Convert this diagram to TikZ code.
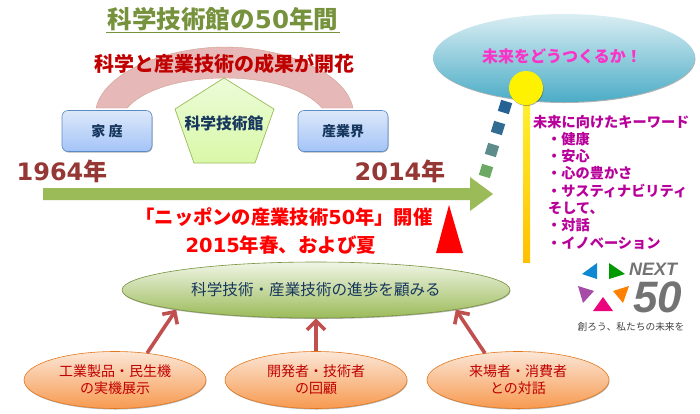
\documentclass[tikz,border=0pt]{standalone}
\usepackage{fontspec}
\setmainfont{Noto Sans CJK JP}
\newfontfamily\numfont{DejaVu Sans}
\newfontfamily\logofont{Liberation Sans}
\usetikzlibrary{shapes.geometric,shadows,arrows.meta}
\definecolor{titlegreen}{HTML}{76923C}
\definecolor{barsgreen}{HTML}{9BBB59}
\definecolor{yearred}{HTML}{953735}
\definecolor{darkred}{HTML}{C00000}
\definecolor{navytext}{HTML}{17375E}
\definecolor{keypink}{HTML}{B8009A}
\definecolor{arrowred}{HTML}{C0504D}
\definecolor{bandpink}{HTML}{E6B8B7}
\definecolor{bandline}{HTML}{CFA08F}
\definecolor{boxtop}{HTML}{DCE8FA}
\definecolor{boxbottom}{HTML}{A4C4F7}
\definecolor{boxline}{HTML}{5B8BC4}
\definecolor{penttop}{HTML}{ECFCD8}
\definecolor{pentbottom}{HTML}{D9F8A8}
\definecolor{ovaltop}{HTML}{FBE6D6}
\definecolor{ovalbottom}{HTML}{F79A50}
\definecolor{ovalline}{HTML}{E3781E}
\definecolor{skytop}{HTML}{DAEEF3}
\definecolor{skybottom}{HTML}{4BACC6}
\definecolor{poletop}{HTML}{FFF030}
\definecolor{polemid}{HTML}{FFE080}
\definecolor{polebottom}{HTML}{FFC000}
\tikzset{
  softshadow/.style={drop shadow={shadow xshift=0.5pt,shadow yshift=-1pt,opacity=0.3,fill=black}},
  fieldbox/.style={draw=boxline,line width=0.6pt,rounded corners=6pt,minimum width=90pt,minimum height=41pt,inner sep=0pt,
    top color=boxtop,bottom color=boxbottom,softshadow,text=navytext,font=\bfseries\fontsize{14}{16}\selectfont},
  eventoval/.style={ellipse,draw=ovalline,line width=0.6pt,minimum width=182pt,minimum height=57pt,inner sep=0pt,
    top color=ovaltop,bottom color=ovalbottom,softshadow,text=darkred,align=center,font=\fontsize{14}{17}\selectfont},
  uparrow/.style={draw=arrowred,line width=3.6pt,-{Straight Barb[length=9pt,width=18pt,line width=3.6pt]}},
  dotsquare/.style={minimum size=11.5pt,inner sep=0pt,rotate=-17},
  keyline/.style={anchor=west,inner sep=0pt,text=keypink,font=\bfseries\fontsize{14.2}{16}\selectfont}
}
\begin{document}
\begin{tikzpicture}[x=1pt,y=-1pt]
  \useasboundingbox (0,0) rectangle (700,413);

  \node[text=titlegreen,inner sep=1pt,font=\bfseries\fontsize{24.5}{26}\selectfont] (title) at (223,19) {科学技術館の{\numfont 50}年間};
  \draw[titlegreen,line width=1pt] (106,32) -- (340,32);

  \draw[draw=bandline,fill=bandpink] (96,108) .. controls (105,70) and (170,47) .. (225,47) .. controls (280,47) and (345,70) .. (353,108) -- (322,108) .. controls (305,88) and (265,78) .. (225,78) .. controls (185,78) and (145,88) .. (127,108) -- cycle;
  \node[text=darkred,font=\bfseries\fontsize{20}{22}\selectfont] (seika) at (224,64) {科学と産業技術の成果が開花};

  \node[fieldbox] (katei) at (107,131) {家 庭};
  \node[fieldbox] (sangyo) at (343,131) {産業界};
  \draw[draw=barsgreen,line width=0.7pt,top color=penttop,bottom color=pentbottom] (224,78) -- (274,109) -- (255,163) -- (194,163) -- (175,109) -- cycle;
  \node[text=navytext,font=\bfseries\fontsize{15.8}{18}\selectfont] (kan) at (224,123) {科学技術館};

  \node[text=yearred,font=\bfseries\fontsize{24}{26}\selectfont] (y1964) at (62,171) {{\numfont 1964}年};
  \node[text=yearred,font=\bfseries\fontsize{24}{26}\selectfont] (y2014) at (400,171) {{\numfont 2014}年};

  \fill[barsgreen] (43,188) -- (470,188) -- (470,177) -- (493,194) -- (470,211) -- (470,200) -- (43,200) -- cycle;

  \node[text=red,font=\bfseries\fontsize{19.3}{22}\selectfont] (nippon) at (284,217) {「ニッポンの産業技術{\numfont 50}年」開催};
  \node[text=red,font=\bfseries\fontsize{19.5}{22}\selectfont] (haru) at (281,245) {{\numfont 2015}年春、および夏};
  \fill[red] (449,205) -- (463,253) -- (436,253) -- cycle;

  \node[ellipse,draw=titlegreen,line width=0.6pt,minimum width=388pt,minimum height=56pt,inner sep=0pt,top color=barsgreen!15,bottom color=barsgreen,softshadow,text=navytext,font=\fontsize{15.6}{18}\selectfont] (shinpo) at (316,290) {科学技術・産業技術の進歩を顧みる};

  \node[eventoval] (kogyo) at (115,380) {工業製品・民生機\\の実機展示};
  \node[eventoval] (kaihatsu) at (316,380) {開発者・技術者\\の回顧};
  \node[eventoval] (raijo) at (518,380) {来場者・消費者\\との対話};

  \draw[uparrow] (kogyo.40) -- (shinpo.188.2);
  \draw[uparrow] (kaihatsu.north) -- (shinpo.south);
  \draw[uparrow] (raijo.141) -- (shinpo.-8.2);

  \node[ellipse,minimum width=262pt,minimum height=88pt,inner sep=0pt,top color=skytop,bottom color=skybottom,softshadow] (mirai) at (564,58) {};
  \node[text={rgb,255:red,250;green,50;blue,200},font=\bfseries\fontsize{16}{18}\selectfont] (dou) at (562,56) {未来をどうつくるか！};

  \shade[top color=poletop,middle color=polemid,bottom color=polebottom] (523,100) rectangle (530,262);
  \node[circle,minimum size=34pt,inner sep=0pt,fill=yellow,softshadow] (sun) at (526,88) {};

  \node[dotsquare,fill=blue!45!cyan!50!black!85] (sqa) at (505,107) {};
  \node[dotsquare,fill=blue!25!teal!60!gray] (sqb) at (498,128) {};
  \node[dotsquare,fill=teal!40!gray!90] (sqc) at (492,150) {};
  \node[dotsquare,fill=barsgreen!70!teal] (sqd) at (486,171) {};

  \node[keyline] (kiwa) at (533,122) {未来に向けたキーワード};
  \node[keyline] (kenko) at (547,139) {・健康};
  \node[keyline] (anshin) at (547,156) {・安心};
  \node[keyline] (yutaka) at (547,173) {・心の豊かさ};
  \node[keyline] (sasu) at (547,191) {・サスティナビリティ};
  \node[keyline] (soshite) at (548,208) {そして、};
  \node[keyline] (taiwa) at (547,225) {・対話};
  \node[keyline] (inov) at (547,243) {・イノベーション};

  \fill[cyan!70!blue] (597,263) -- (582,274) -- (597,279) -- cycle;
  \fill[green!60!black] (609,263) -- (625,274) -- (609,279) -- cycle;
  \fill[violet!70!white] (578,286) -- (594,291) -- (583,303) -- cycle;
  \fill[orange] (629,286) -- (613,291) -- (623,303) -- cycle;
  \fill[magenta!85!red] (603,297) -- (613,311) -- (593,311) -- cycle;
  \node[anchor=west,inner sep=0pt,text=gray!90!black,font=\logofont\bfseries\itshape\fontsize{18}{18}\selectfont] (next) at (629,269) {NEXT};
  \node[anchor=west,inner sep=0pt,text=gray!90!black,font=\logofont\bfseries\itshape\fontsize{44}{44}\selectfont] (fifty) at (633,297.5) {50};
  \node[inner sep=0pt,text=black!75,font=\fontsize{9.7}{11}\selectfont] (tsukuro) at (631,327) {創ろう、私たちの未来を};
\end{tikzpicture}
\end{document}
